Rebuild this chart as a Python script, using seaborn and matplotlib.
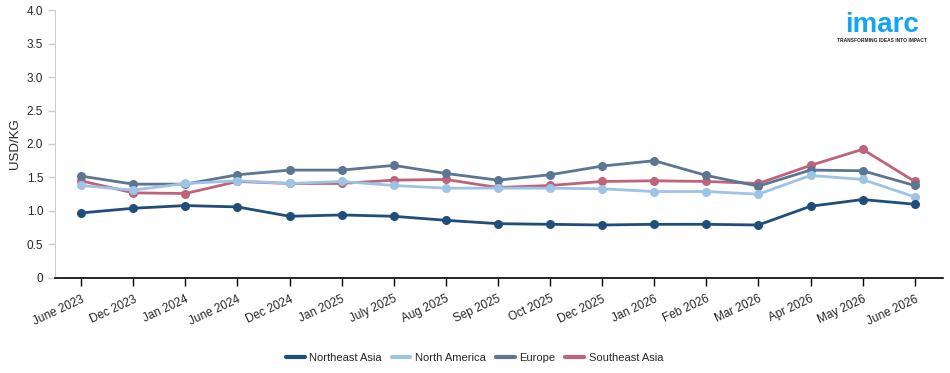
import matplotlib
matplotlib.use('Agg')
import matplotlib.pyplot as plt
import seaborn as sns
import pandas as pd

months = ['June 2023', 'Dec 2023', 'Jan 2024', 'June 2024', 'Dec 2024', 'Jan 2025',
          'July 2025', 'Aug 2025', 'Sep 2025', 'Oct 2025', 'Dec 2025', 'Jan 2026',
          'Feb 2026', 'Mar 2026', 'Apr 2026', 'May 2026', 'June 2026']
northeast_asia = [0.97, 1.04, 1.08, 1.06, 0.92, 0.94, 0.92, 0.86, 0.81, 0.80, 0.79,
                  0.80, 0.80, 0.79, 1.07, 1.17, 1.10]
north_america = [1.38, 1.31, 1.41, 1.45, 1.41, 1.44, 1.38, 1.34, 1.34, 1.34, 1.33,
                 1.29, 1.29, 1.25, 1.53, 1.47, 1.21]
europe = [1.52, 1.40, 1.40, 1.54, 1.61, 1.61, 1.68, 1.56, 1.46, 1.54, 1.67,
          1.75, 1.53, 1.37, 1.61, 1.60, 1.38]
southeast_asia = [1.45, 1.27, 1.26, 1.44, 1.41, 1.41, 1.46, 1.47, 1.35, 1.38, 1.44,
                  1.45, 1.44, 1.41, 1.68, 1.92, 1.44]

legend_order = ['Northeast Asia', 'North America', 'Europe', 'Southeast Asia']
colors = {'Northeast Asia': '#1f4e79', 'North America': '#9dc3e6',
          'Europe': '#5a7693', 'Southeast Asia': '#c0637a'}
series = {'Northeast Asia': northeast_asia, 'North America': north_america,
          'Europe': europe, 'Southeast Asia': southeast_asia}

rows = []
for region, vals in series.items():
    for i, v in enumerate(vals):
        rows.append({'idx': i, 'month': months[i], 'region': region, 'price': v})
df = pd.DataFrame(rows)

sns.set_style('white')
plt.rcParams['font.family'] = ['Liberation Sans', 'DejaVu Sans']

fig = plt.figure(figsize=(9.5, 3.73), dpi=100)
ax = fig.add_axes([0.058, 0.255, 0.935, 0.718])

# draw back to front
for region in ['Southeast Asia', 'Europe', 'North America', 'Northeast Asia']:
    sub = df[df['region'] == region]
    sns.lineplot(data=sub, x='idx', y='price', color=colors[region], marker='o',
                 markersize=6.5, markeredgewidth=0, linewidth=2.0, ax=ax, label=region)

h, l = ax.get_legend_handles_labels()
hmap = dict(zip(l, h))
ax.legend([hmap[r] for r in legend_order], legend_order, loc='center',
          bbox_to_anchor=(0.472, -0.30), ncol=4, frameon=False, fontsize=8,
          handlelength=1.7, columnspacing=0.9, handletextpad=0.4)
for line in ax.get_legend().get_lines():
    line.set_marker('')
    line.set_linewidth(3)

ax.set_xlim(-0.5, len(months) - 0.45)
ax.set_ylim(0, 4.0)
ax.set_yticks([0, 0.5, 1.0, 1.5, 2.0, 2.5, 3.0, 3.5, 4.0])
ax.set_yticklabels(['0', '0.5', '1.0', '1.5', '2.0', '2.5', '3.0', '3.5', '4.0'])
ax.set_xticks(range(len(months)))
ax.set_xticklabels(months, rotation=25, ha='right', rotation_mode='anchor')
ax.tick_params(axis='x', length=6, width=1, color='black', labelsize=8.5, pad=5, bottom=True)
ax.tick_params(axis='y', length=5, width=1, color='#cccccc', labelsize=8.5, left=True)
ax.set_xlabel('')
ax.set_ylabel('USD/KG', fontsize=9.5)

for s in ['top', 'right']:
    ax.spines[s].set_visible(False)
ax.spines['left'].set_color('#cccccc')
ax.spines['bottom'].set_color('black')
ax.spines['bottom'].set_linewidth(1.2)

# logo
fig.text(0.928, 0.915, 'imarc', color='#12a5f0', fontsize=20, fontweight='bold',
         ha='center', va='baseline')
fig.text(0.928, 0.888, 'TRANSFORMING IDEAS INTO IMPACT', color='#222222', fontsize=3.5,
         fontweight='bold', ha='center', va='baseline')

plt.savefig('out.png', dpi=100)
